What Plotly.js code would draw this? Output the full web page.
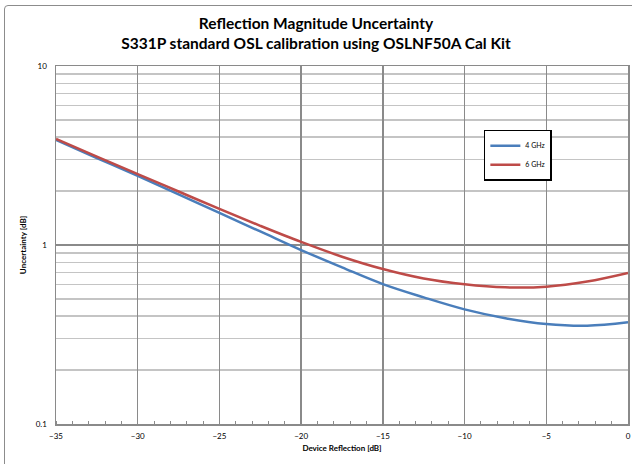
<!DOCTYPE html>
<html><head><meta charset="utf-8">
<script src="https://cdn.plot.ly/plotly-3.0.1.min.js"></script>
<style>
html,body{margin:0;padding:0;overflow:hidden;background:#fff;}
#chart{width:632px;height:464px;position:absolute;left:0;top:0;}
#frame{position:absolute;left:4px;top:5px;width:640px;height:470px;border:1.5px solid #8c8c8c;border-radius:4px;pointer-events:none;}
</style></head>
<body>
<div id="chart"></div>
<div id="frame"></div>
<script>
const reflection = [-35, -32.5, -30, -27.5, -25, -22.5, -20, -17.5, -15, -12.5, -10, -7.5, -5, -2.5, 0];
const unc4GHz = [3.86, 3.06, 2.43, 1.92, 1.51, 1.19, 0.937, 0.75, 0.605, 0.51, 0.437, 0.39, 0.362, 0.354, 0.370];
const unc6GHz = [3.91, 3.12, 2.49, 1.99, 1.59, 1.28, 1.04, 0.86, 0.734, 0.65, 0.603, 0.58, 0.585, 0.625, 0.698];
const seriesNames = ['4 GHz', '6 GHz'];
const yTickVals = [0.1, 1, 10];
const yTickText = ['0.1', '1', '10'];
const xTickVals = [-35, -30, -25, -20, -15, -10, -5, 0];

const minorY = [];
[0.1, 1].forEach(d => { for (let k = 2; k <= 9; k++) minorY.push(+(d * k).toFixed(2)); });

const traces = [
  {x: reflection, y: unc4GHz, name: seriesNames[0], mode: 'lines', line: {color: '#4a7ebb', width: 2.5, shape: 'spline'}},
  {x: reflection, y: unc6GHz, name: seriesNames[1], mode: 'lines', line: {color: '#be4b48', width: 2.5, shape: 'spline'}}
];

const layout = {
  width: 632, height: 464,
  margin: {l: 56, r: 4, t: 66, b: 40},
  paper_bgcolor: '#fff', plot_bgcolor: '#fff',
  font: {family: 'Lato, "Open Sans", sans-serif', color: '#000', size: 8},
  title: {text: '<b>Reflection Magnitude Uncertainty</b><br><b>S331P standard OSL calibration using OSLNF50A Cal Kit</b>',
          font: {size: 15.5, family: 'Lato, "Open Sans", sans-serif', color: '#000'}, x: 0.5, xanchor: 'center', y: 0.937, yanchor: 'middle'},
  xaxis: {range: [-35, 0], tickvals: xTickVals, ticks: '', showgrid: true, gridcolor: '#8a8a8a', gridwidth: 1.5,
          showline: true, linecolor: '#8a8a8a', linewidth: 1.5, mirror: true, zeroline: false,
          tickfont: {size: 8}, ticklabelstandoff: 4,
          minor: {dtick: 1, ticks: 'inside', ticklen: 3, tickcolor: '#8a8a8a', showgrid: false},
          title: {text: '<b>Device Reflection [dB]</b>', font: {size: 8}, standoff: 5}},
  yaxis: {type: 'log', range: [-1, 1], tickvals: yTickVals, ticktext: yTickText, ticks: '',
          showgrid: true, gridcolor: '#8a8a8a', gridwidth: 1.5,
          showline: true, linecolor: '#8a8a8a', linewidth: 1.5, mirror: true, zeroline: false,
          tickfont: {size: 8}, ticklabelstandoff: 6,
          minor: {tickvals: minorY, showgrid: true, gridcolor: '#c4c4c4', gridwidth: 1.5, ticks: ''},
          title: {text: '<b>Uncertainty [dB]</b>', font: {size: 8}, standoff: 8}},
  legend: {x: 0.748, y: 0.822, xanchor: 'left', yanchor: 'top', bordercolor: '#000', borderwidth: 1.5, bgcolor: '#fff',
           font: {size: 7}, tracegroupgap: 0, itemwidth: 30},
  showlegend: true
};

Plotly.newPlot('chart', traces, layout, {displayModeBar: false, staticPlot: true});
</script>
</body></html>
